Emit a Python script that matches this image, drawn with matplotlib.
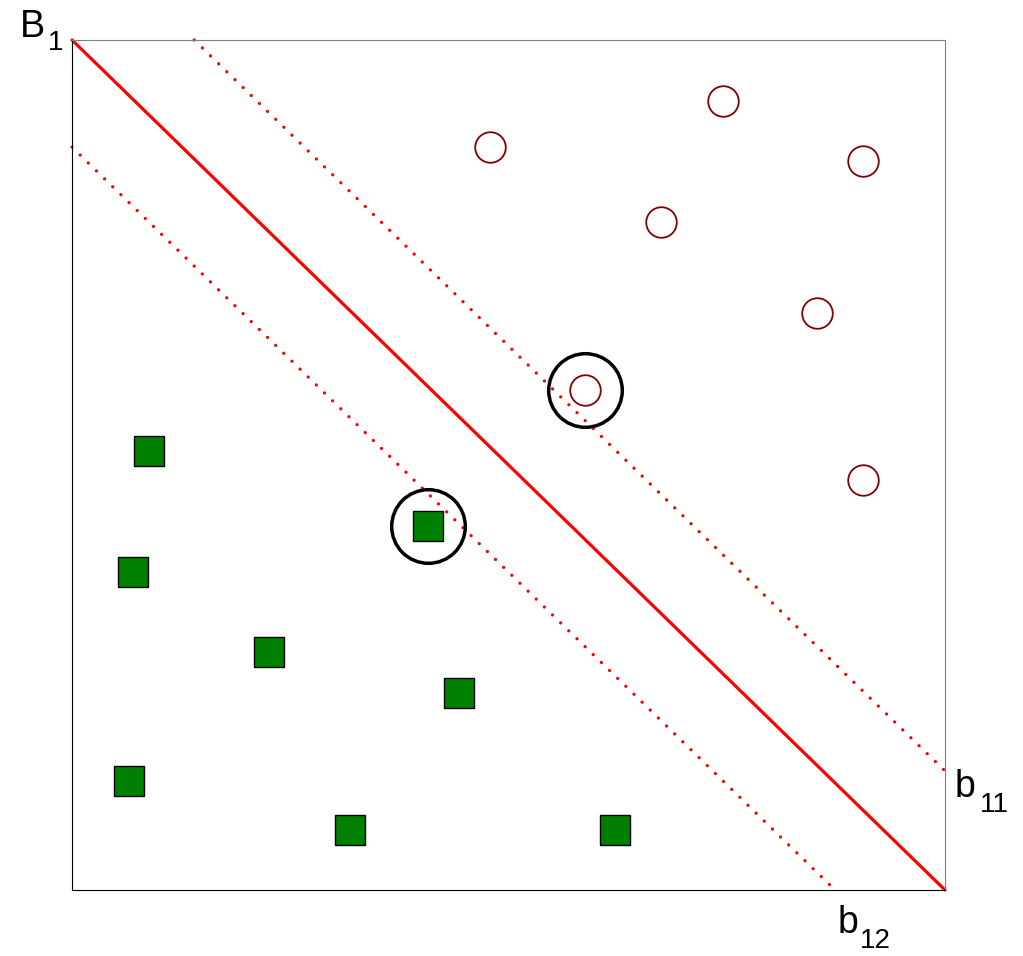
import matplotlib
matplotlib.use("Agg")
import matplotlib.pyplot as plt
import numpy as np

plt.rcParams['font.family'] = ['Liberation Sans', 'DejaVu Sans']

# class 1 (open circles)
circle_x = [0.479, 0.746, 0.906, 0.675, 0.853, 0.588, 0.906]
circle_y = [0.874, 0.928, 0.858, 0.786, 0.679, 0.588, 0.482]

# class 2 (filled squares)
square_x = [0.088, 0.070, 0.226, 0.443, 0.065, 0.318, 0.622, 0.408]
square_y = [0.516, 0.374, 0.280, 0.232, 0.128, 0.071, 0.071, 0.428]

# support vectors
sv_x = [0.588, 0.408]
sv_y = [0.588, 0.428]

# decision boundary x + y = c and its margins
boundary_c = 1.0
margin_upper_c = 1.14
margin_lower_c = 0.874

W, H = 1023, 956
fig = plt.figure(figsize=(W / 100, H / 100), dpi=100)
ax = fig.add_axes([72 / W, 66 / H, 873 / W, 850 / H])
ax.set_xlim(0, 1)
ax.set_ylim(0, 1)
ax.set_xticks([])
ax.set_yticks([])
for side in ['top', 'right']:
    ax.spines[side].set_color('#808080')
for side in ['left', 'bottom']:
    ax.spines[side].set_color('black')


def diag_segment(c):
    """Part of the line x + y = c that lies inside the unit box."""
    x0 = max(0.0, c - 1.0)
    x1 = min(1.0, c)
    xs = np.linspace(x0, x1, 200)
    return xs, c - xs


xb, yb = diag_segment(boundary_c)
ax.plot(xb, yb, color='#ff0000', lw=2.3, solid_capstyle='round', clip_on=False)

dot_style = dict(color='#ff0000', lw=2.4, linestyle=(0, (0.01, 3.4)),
                 dash_capstyle='round', clip_on=False)
xu, yu = diag_segment(margin_upper_c)
ax.plot(xu, yu, **dot_style)
xl, yl = diag_segment(margin_lower_c)
ax.plot(xl, yl, **dot_style)

ax.plot(circle_x, circle_y, 'o', ms=22, mfc='white', mec='#800000', mew=1.3,
        linestyle='none', zorder=3)
ax.plot(square_x, square_y, 's', ms=22, mfc='#008000', mec='black', mew=1.0,
        linestyle='none', zorder=3)
ax.plot(sv_x, sv_y, 'o', ms=53, mfc='none', mec='black', mew=2.5,
        linestyle='none', zorder=4)


def label(main, sub, x, y_base, x_sub, y_sub):
    fig.text(x / W, 1 - y_base / H, main, fontsize=27, ha='left', va='baseline')
    fig.text(x_sub / W, 1 - y_sub / H, sub, fontsize=20, ha='left', va='baseline')


label('B', '1', 20, 37, 48, 50)
label('b', '11', 955, 797, 980, 812)
label('b', '12', 838, 933, 860, 948)

fig.savefig('out.png', dpi=100)
